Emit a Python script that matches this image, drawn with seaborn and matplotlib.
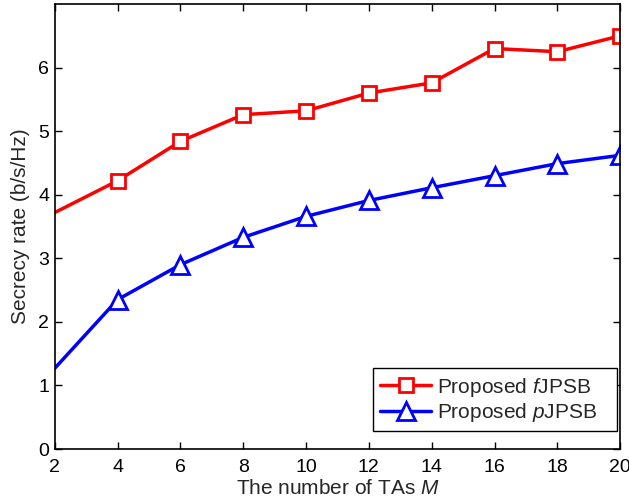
import numpy as np
import pandas as pd
import matplotlib
matplotlib.use("Agg")
import matplotlib.pyplot as plt
import seaborn as sns

# --- data ---
num_tas = [2, 4, 6, 8, 10, 12, 14, 16, 18, 20]
rate_fjpsb = [3.72, 4.22, 4.84, 5.26, 5.32, 5.60, 5.76, 6.30, 6.25, 6.50]
rate_pjpsb = [1.27, 2.35, 2.90, 3.33, 3.66, 3.91, 4.11, 4.30, 4.49, 4.62]
labels = ["Proposed $f$JPSB", "Proposed $p$JPSB"]

sns.set_style("ticks")
plt.rcParams["font.family"] = ["Liberation Sans", "DejaVu Sans"]
plt.rcParams["mathtext.fontset"] = "custom"
plt.rcParams["mathtext.rm"] = "Liberation Sans"
plt.rcParams["mathtext.it"] = "Liberation Sans:italic"
plt.rcParams["xtick.direction"] = "in"
plt.rcParams["ytick.direction"] = "in"

df = pd.DataFrame({
    "M": num_tas * 2,
    "rate": rate_fjpsb + rate_pjpsb,
    "scheme": [labels[0]] * len(num_tas) + [labels[1]] * len(num_tas),
})

fig = plt.figure(figsize=(6.29, 5.04), dpi=100)
ax = fig.add_axes([0.087, 0.109, 0.899, 0.883])

styles = {labels[0]: ("red", "s", 9.5), labels[1]: ("blue", "^", 13)}
for name, sub in df.groupby("scheme", sort=False):
    color, marker, ms = styles[name]
    sns.lineplot(data=sub, x="M", y="rate", ax=ax, color=color, lw=2.5,
                 marker=marker, markersize=ms, markerfacecolor="white",
                 markeredgecolor=color, markeredgewidth=2, label=name + "   ",
                 markevery=slice(1, None), clip_on=True)

ax.set_xlim(2, 20)
ax.set_ylim(0, 7)
ax.set_xticks(np.arange(2, 21, 2))
ax.set_yticks(np.arange(0, 7, 1))
ax.tick_params(labelsize=14, top=True, right=True, length=5, width=1, colors="black")
ax.tick_params(axis="x", pad=7)
ax.tick_params(axis="y", pad=4)
for s in ax.spines.values():
    s.set_linewidth(1.2)
    s.set_color("black")
ax.set_xlabel("The number of TAs $M$", fontsize=15, labelpad=2)
ax.set_ylabel("Secrecy rate (b/s/Hz)", fontsize=15, labelpad=6)

leg = ax.legend(loc="lower right", bbox_to_anchor=(0.9947, 0.0404), borderaxespad=0,
                fontsize=15, frameon=True, fancybox=False, edgecolor="black",
                framealpha=1, handlelength=2.45, handletextpad=0.3, labelspacing=0.1,
                borderpad=0.35)
leg.get_frame().set_linewidth(1)

fig.savefig("out.png", dpi=100)
